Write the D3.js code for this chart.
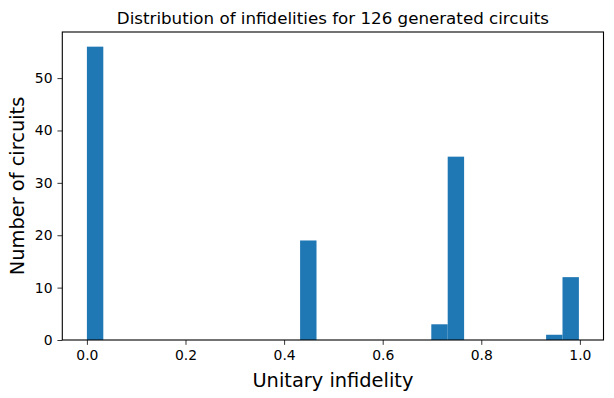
<!DOCTYPE html>
<html><head><meta charset="utf-8">
<script src="https://cdn.jsdelivr.net/npm/d3@7"></script>
<style>body{margin:0;background:#fff}svg{display:block}text{font-family:"DejaVu Sans",sans-serif;fill:#000}</style>
</head><body><svg id="c" width="614" height="398"></svg>
<script>
const dataMin = 0.0;
const dataMax = 0.998;
const binCounts = [56,0,0,0,0,0,0,0,0,0,0,0,0,19,0,0,0,0,0,0,0,3,35,0,0,0,0,0,1,12];
const xTicks = [0.0,0.2,0.4,0.6,0.8,1.0];
const yTicks = [0,10,20,30,40,50];
const title = "Distribution of infidelities for 126 generated circuits";
const xLabel = "Unitary infidelity";
const yLabel = "Number of circuits";

const svg = d3.select("#c");
const L = 62.3, R = 603.5, T = 32, B = 340;
const nb = binCounts.length, bw = (dataMax - dataMin) / nb;
const pad = 0.05 * (dataMax - dataMin);
const x = d3.scaleLinear().domain([dataMin - pad, dataMax + pad]).range([L, R]);
const ymax = d3.max(binCounts) * 1.05;
const y = d3.scaleLinear().domain([0, ymax]).range([B, T]);

const bins = binCounts.map((c, i) => ({x0: dataMin + i * bw, x1: dataMin + (i + 1) * bw, c}));
svg.append("g").selectAll("rect").data(bins.filter(d => d.c > 0)).join("rect")
  .attr("x", d => x(d.x0)).attr("width", d => x(d.x1) - x(d.x0))
  .attr("y", d => y(d.c)).attr("height", d => y(0) - y(d.c))
  .attr("fill", "#1f77b4");

const xa = svg.append("g").attr("transform", `translate(0,${B})`)
  .call(d3.axisBottom(x).tickValues(xTicks).tickFormat(d3.format(".1f")).tickSize(4.86).tickPadding(4.9));
const ya = svg.append("g").attr("transform", `translate(${L},0)`)
  .call(d3.axisLeft(y).tickValues(yTicks).tickFormat(d3.format("d")).tickSize(4.86).tickPadding(4.9));
[xa, ya].forEach(a => {
  a.select(".domain").remove();
  a.selectAll("line").attr("stroke", "#000").attr("stroke-width", 0.8);
  a.selectAll("text").attr("font-size", "13.9px").attr("font-family", "DejaVu Sans");
});
svg.append("rect").attr("x", L).attr("y", T).attr("width", R - L).attr("height", B - T)
  .attr("fill", "none").attr("stroke", "#000").attr("stroke-width", 1.1);

svg.append("text").attr("x", (L + R) / 2).attr("y", T - 8).attr("text-anchor", "middle")
  .attr("font-size", "16.7px").text(title);
svg.append("text").attr("x", (L + R) / 2).attr("y", 387).attr("text-anchor", "middle")
  .attr("font-size", "19.4px").text(xLabel);
svg.append("text").attr("transform", `translate(24,${(T + B) / 2}) rotate(-90)`).attr("text-anchor", "middle")
  .attr("font-size", "19.4px").text(yLabel);
</script></body></html>
